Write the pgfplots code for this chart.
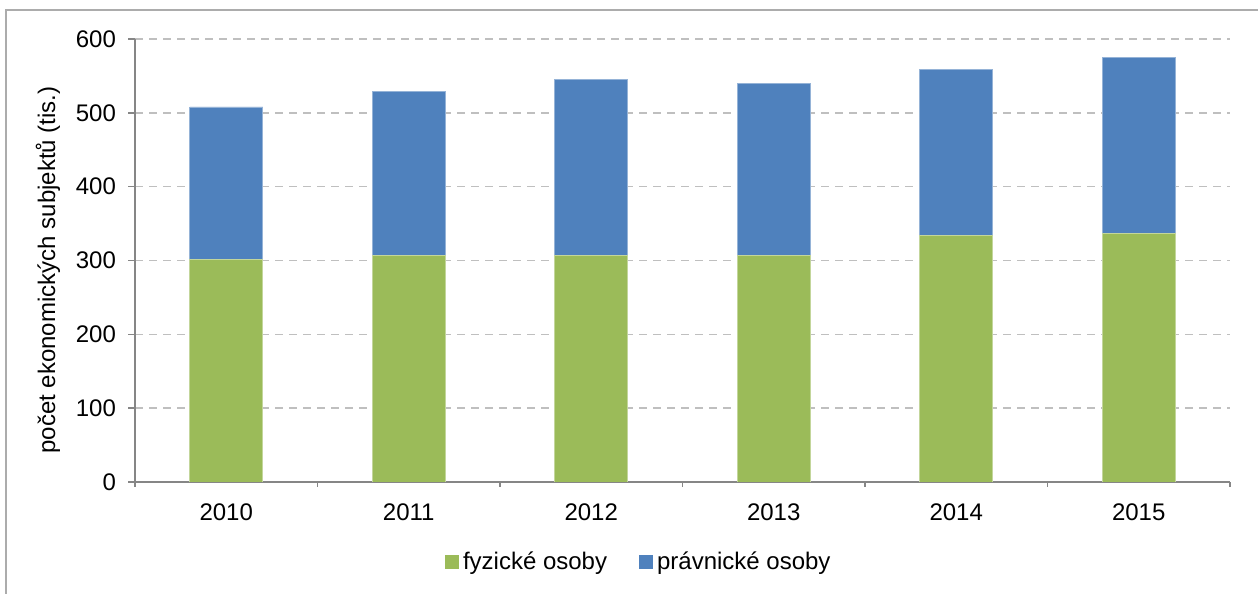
\documentclass[border=0pt]{standalone}
\usepackage{pgfplots}
\pgfplotsset{compat=1.18}
\usepackage{fontspec}
\setmainfont{Liberation Sans}
\definecolor{fyz}{HTML}{9BBB59}
\definecolor{prav}{HTML}{4F81BD}
\definecolor{axgray}{HTML}{868686}
\definecolor{gridgray}{HTML}{BFBFBF}
\pgfplotsset{
  sq legend/.style={
    legend image code/.code={\fill[##1,draw=none] (0pt,-3.5pt) rectangle (7pt,3.5pt);},
  },
}
\begin{document}
\begin{tikzpicture}
\useasboundingbox (0pt,0pt) rectangle (629pt,297pt);
\draw[gray!65, line width=1.2pt] (3pt,-10pt) -- (3pt,292pt) -- (640pt,292pt);
\begin{axis}[
  at={(67.5pt,56pt)}, anchor=south west,
  scale only axis, width=547.5pt, height=221.5pt,
  ybar stacked, bar width=0.4,
  xmin=-0.5, xmax=5.5, ymin=0, ymax=600,
  xtick={0,...,5}, xticklabels={2010,2011,2012,2013,2014,2015},
  minor xtick={-0.5,0.5,...,5.5},
  ytick={0,100,...,600},
  axis x line*=bottom, axis y line*=left,
  axis line style={axgray, line width=0.8pt},
  tick align=outside,
  major tick length=3.5pt, minor tick length=2.5pt,
  major x tick style={draw=none},
  every tick/.style={axgray, line width=0.8pt},
  ymajorgrids, grid style={gridgray, line width=0.8pt, dash pattern=on 4pt off 3pt},
  ticklabel style={font=\fontsize{12}{14}\selectfont},
  /pgf/number format/assume math mode=true,
  yticklabel style={xshift=-2.5pt},
  xticklabel style={yshift=-4pt},
  legend style={at={(0.461,-0.181)}, anchor=center, draw=none, fill=none,
    legend columns=-1, font=\fontsize{12}{14}\selectfont,
    /tikz/every even column/.append style={column sep=14pt}},
  sq legend,
]
\addplot[fill=fyz, draw=fyz!60!white, line width=0.4pt] coordinates {
  (0,302) (1,307) (2,307) (3,307) (4,334) (5,337)
};
\addlegendentry{fyzické osoby}
\addplot[fill=prav, draw=prav!60!white, line width=0.4pt] coordinates {
  (0,206) (1,222) (2,238) (3,233) (4,225) (5,238)
};
\addlegendentry{právnické osoby}
\end{axis}
\node[rotate=90, font=\fontsize{12}{14}\selectfont] at (24pt,162pt) {počet ekonomických subjektů (tis.)};
\end{tikzpicture}
\end{document}
